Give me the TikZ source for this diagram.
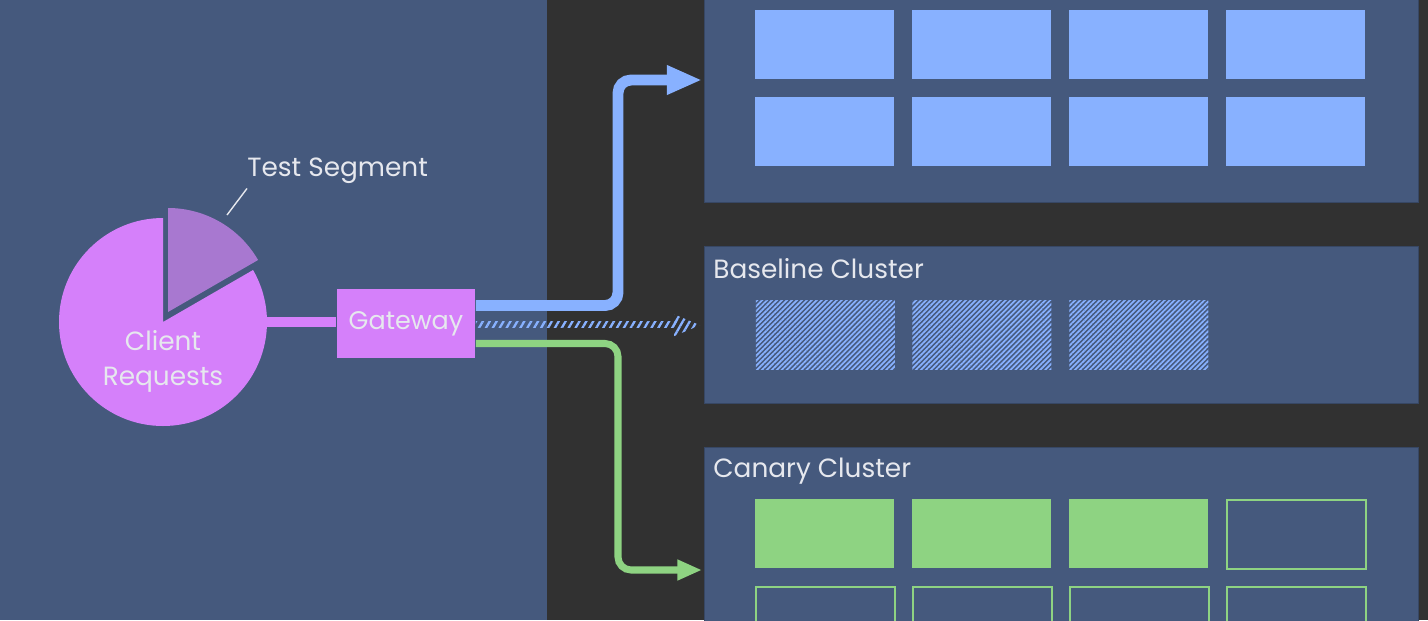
\documentclass[tikz,border=0pt]{standalone}
\usepackage{fontspec}
\setmainfont{Poppins}
\usetikzlibrary{positioning,calc,arrows.meta,patterns.meta}

\definecolor{slate}{HTML}{45597D}
\definecolor{charcoal}{HTML}{313131}
\definecolor{podblue}{HTML}{88B1FF}
\definecolor{podgreen}{HTML}{8ED382}
\definecolor{pieviolet}{HTML}{D580FA}
\definecolor{segviolet}{HTML}{A878D0}
\definecolor{labelgrey}{HTML}{E6E8EE}

\tikzset{
  cluster/.style={fill=slate, draw=slate!80!black, line width=0.8pt,
    minimum width=14.28cm, anchor=north west, inner sep=0},
  pod/.style={minimum width=2.78cm, minimum height=1.38cm, inner sep=0,
    anchor=north west},
  idle/.style={pod, draw=podgreen, line width=1.1pt},
  shadow pod/.style={pod, pattern={Lines[angle=45,distance=2pt,line width=1pt]},
    pattern color=podblue},
  title/.style={text=labelgrey, font=\fontsize{15}{17}\selectfont, anchor=base west,
    inner sep=0},
  prodflow/.style={draw=podblue, line width=6.2pt, rounded corners=0.26cm,
    -{Triangle[length=20pt,width=15.5pt]}},
  canaryflow/.style={draw=podgreen, line width=4pt, rounded corners=0.26cm,
    -{Triangle[length=14pt,width=11pt]}},
  mirror/.style={pattern={Lines[angle=60,distance=3.4pt,line width=1.3pt]},
    pattern color=podblue}
}

\begin{document}
\begin{tikzpicture}[x=0.02cm,y=-0.02cm]
\useasboundingbox (0,0) rectangle (1428,620);

% backgrounds
\fill[slate] (0,0) rectangle (547,620);
\fill[charcoal] (547,0) rectangle (1428,620);

% clusters
\node[cluster, minimum height=4.24cm] (production) at (704,-10) {};
\node[cluster, minimum height=3.14cm] (baseline) at (704,246) {};
\node[cluster, minimum height=3.8cm] (canary) at (704,447) {};

\node[title] (baselinetitle) at (713,278) {Baseline Cluster};
\node[title] (canarytitle) at (713,477) {Canary Cluster};

% pods
\foreach \col in {0,...,3}
  \foreach \row in {0,1}
    \node[pod, fill=podblue] (prod-\row-\col) at (755+157*\col,10+87*\row) {};

\foreach \col in {0,...,2}
  \node[shadow pod] (base-\col) at (755+157*\col,300) {};

\foreach \col in {0,...,2}
  \node[pod, fill=podgreen] (can-0-\col) at (755+157*\col,499) {};
\node[idle] (can-0-3) at (1226,499) {};
\foreach \col in {0,...,3}
  \node[idle] (can-1-\col) at (755+157*\col,586) {};

% pie
\fill[pieviolet] (163,322) -- ++(-90:104) arc[start angle=-90,end angle=-390,radius=104] -- cycle;
\fill[segviolet] (168,312) -- ++(-90:104) arc[start angle=-90,end angle=-30,radius=104] -- cycle;
\node[circle, minimum size=4.16cm, inner sep=0] (pie) at (163,322) {};
\node[text=labelgrey, align=center, font=\fontsize{15}{20}\selectfont] (requests) at (163,361) {Client\\Requests};

\node[title] (seglabel) at (247,176) {Test Segment};
\coordinate (segtip) at (227,215);
\draw[labelgrey, line width=0.8pt] (segtip) -- ($(seglabel.south west)+(0,5)$);

% gateway
\node[fill=pieviolet, minimum width=2.78cm, minimum height=1.38cm, inner sep=0,
  text=labelgrey, font=\fontsize{14.5}{16}\selectfont] (gateway) at (406,323.5) {Gateway};
\draw[pieviolet, line width=5.5pt] (pie.east) -- (pie.east -| gateway.west);

% routes
\coordinate (prodin) at (702,80);
\coordinate (canaryin) at (702,570);
\draw[prodflow] ([yshift=0.36cm]gateway.east) -| (618,80) -- (prodin);
\draw[canaryflow] ([yshift=-0.4cm]gateway.east) -| (618,570) -- (canaryin);

\fill[mirror] ($(gateway.east)+(0,-2.5)$) rectangle ($(baseline.west)+(-27,2.5)$);
\fill[mirror] ($(baseline.west)+(-30,-11)$) -- ($(baseline.west)+(-4,0)$)
  -- ($(baseline.west)+(-30,11)$) -- cycle;

\end{tikzpicture}
\end{document}
